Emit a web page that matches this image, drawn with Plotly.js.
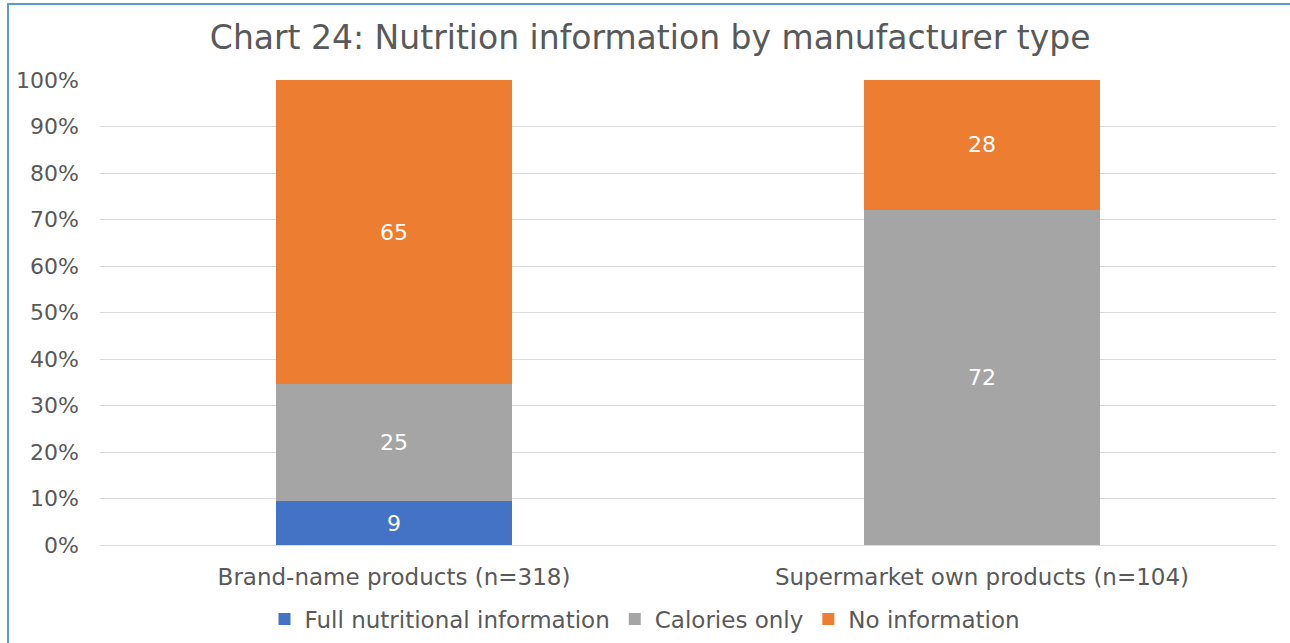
<!DOCTYPE html>
<html>
<head>
<meta charset="utf-8">
<script src="https://cdn.plot.ly/plotly-3.0.1.min.js"></script>
<style>
  html, body { margin: 0; padding: 0; background: #fff; }
  #wrap { position: relative; width: 1290px; height: 643px; overflow: hidden; }
  #chart { position: absolute; left: 0; top: 0; width: 1290px; height: 643px; }
  #frame { position: absolute; left: 7px; top: 3px; width: 1290px; height: 660px;
           border-top: 2px solid #5b9bd5; border-left: 2px solid #5b9bd5; pointer-events: none; }
</style>
</head>
<body>
<div id="wrap">
  <div id="chart"></div>
  <div id="frame"></div>
</div>
<script>
const categories = ['Brand-name products (n=318)', 'Supermarket own products (n=104)'];
const seriesNames = ['Full nutritional information', 'Calories only', 'No information'];
const fullInfo = [9.4, 0];
const caloriesOnly = [25.2, 72.1];
const noInfo = [65.4, 27.9];
const colors = ['#4472c4', '#a5a5a5', '#ed7d31'];
const yTickVals = [0, 10, 20, 30, 40, 50, 60, 70, 80, 90, 100];

const FONT = 'DejaVu Sans, sans-serif';
const series = [fullInfo, caloriesOnly, noInfo];

const traces = series.map((vals, i) => ({
  type: 'bar',
  name: seriesNames[i],
  x: categories,
  y: vals,
  marker: { color: colors[i] },
  width: 0.4,
  text: vals.map(v => v > 0 ? String(Math.round(v)) : ''),
  textposition: 'inside',
  insidetextanchor: 'middle',
  textfont: { family: FONT, size: 22, color: '#ffffff' },
  hoverinfo: 'skip'
}));

const layout = {
  width: 1290,
  height: 643,
  barmode: 'stack',
  paper_bgcolor: '#ffffff',
  plot_bgcolor: '#ffffff',
  margin: { l: 100, r: 14, t: 80, b: 98 },
  title: {
    text: 'Chart 24: Nutrition information by manufacturer type',
    font: { family: FONT, size: 33, color: '#595959' },
    x: 0.504, xanchor: 'center',
    y: 1 - 37 / 643, yanchor: 'middle'
  },
  xaxis: {
    type: 'category',
    showgrid: false,
    showline: true,
    linecolor: '#d9d9d9',
    linewidth: 1,
    ticks: '',
    tickfont: { family: FONT, size: 23, color: '#595959' },
    ticklabelstandoff: 11,
    automargin: false,
    fixedrange: true
  },
  yaxis: {
    range: [0, 100],
    tickvals: yTickVals,
    ticktext: yTickVals.map(v => v + '%'),
    showgrid: true,
    gridcolor: '#d9d9d9',
    gridwidth: 1,
    zeroline: false,
    showline: false,
    ticks: '',
    tickfont: { family: FONT, size: 22, color: '#595959' },
    ticklabelstandoff: 20,
    automargin: false,
    fixedrange: true
  },
  legend: {
    orientation: 'h',
    x: 0.5, xanchor: 'center',
    xref: 'container',
    yref: 'container',
    y: 1 - 619 / 643, yanchor: 'middle',
    font: { family: FONT, size: 23, color: '#595959' },
    traceorder: 'normal',
    itemwidth: 30
  },
  showlegend: true
};

Plotly.newPlot('chart', traces, layout, { displayModeBar: false, staticPlot: true });
</script>
</body>
</html>
